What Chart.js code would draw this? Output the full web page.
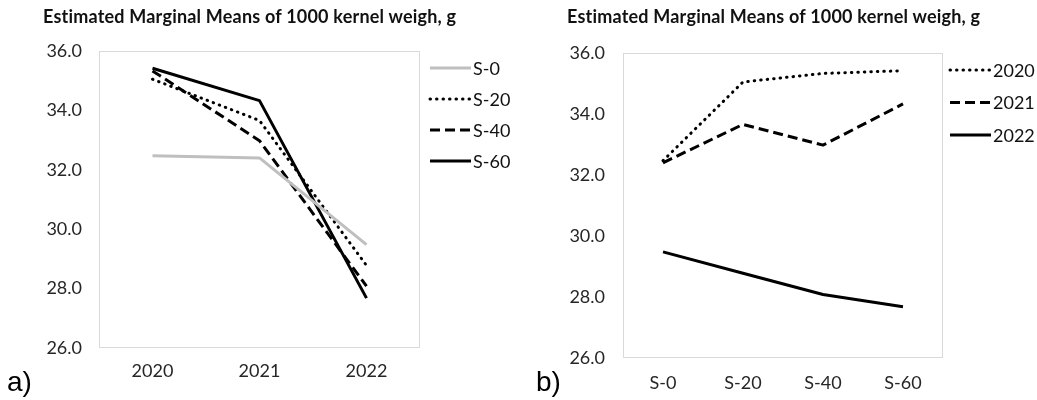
<!DOCTYPE html>
<html>
<head>
<meta charset="utf-8">
<script src="https://cdn.jsdelivr.net/npm/chart.js@4.4.1/dist/chart.umd.min.js"></script>
<style>
  body { margin: 0; background: #fff; width: 1037px; height: 400px; overflow: hidden; position: relative; }
  .panel { position: absolute; top: 0; height: 400px; }
  .title { position: absolute; top: 5px; font: bold 18px Lato, sans-serif; letter-spacing: 0.2px; color: #111; white-space: nowrap; }
  .tag { position: absolute; top: 366px; font: 28px "Liberation Sans", Arial, sans-serif; color: #000; }
</style>
</head>
<body>
<div class="panel" style="left:0;width:520px"><canvas id="chartA" width="520" height="400"></canvas></div>
<div class="panel" style="left:520px;width:517px"><canvas id="chartB" width="517" height="400"></canvas></div>
<div class="title" style="left:43px">Estimated Marginal Means of 1000 kernel weigh, g</div>
<div class="title" style="left:567px">Estimated Marginal Means of 1000 kernel weigh, g</div>
<div class="tag" style="left:7px">a)</div>
<div class="tag" style="left:536px">b)</div>

<script>
// values
const years = ['2020', '2021', '2022'];
const doses = ['S-0', 'S-20', 'S-40', 'S-60'];
const s0 = [32.47, 32.40, 29.48];
const s20 = [35.05, 33.66, 28.78];
const s40 = [35.33, 32.98, 28.08];
const s60 = [35.42, 34.33, 27.68];
const yMin = 26, yMax = 36, yStep = 2;

const tickFont = { family: 'Lato', size: 18 };
const tickColor = '#262626';

// line styles, index matches doses / years
const doseStyles = [
  { color: '#bfbfbf', dash: [], cap: 'butt' },
  { color: '#000', dash: [0.5, 6], cap: 'round' },
  { color: '#000', dash: [10, 5], cap: 'butt' },
  { color: '#000', dash: [], cap: 'butt' }
];
const yearStyles = [doseStyles[1], doseStyles[2], doseStyles[3]];

// light grey box round the plot area
const frame = {
  id: 'frame',
  beforeDatasetsDraw(chart) {
    const { ctx, chartArea: a } = chart;
    ctx.save();
    ctx.strokeStyle = '#d9d9d9';
    ctx.lineWidth = 1;
    ctx.strokeRect(a.left + 0.5, a.top + 0.5, a.width - 1, a.height - 1);
    ctx.restore();
  }
};

// legend drawn next to the plot, line then label
const sideLegend = {
  id: 'sideLegend',
  afterDraw(chart, args, opts) {
    const ctx = chart.ctx;
    chart.data.datasets.forEach((ds, i) => {
      const y = opts.top + i * opts.step;
      ctx.save();
      ctx.strokeStyle = ds.borderColor;
      ctx.lineWidth = ds.borderWidth;
      ctx.lineCap = ds.borderCapStyle;
      ctx.setLineDash(ds.borderDash);
      ctx.beginPath();
      ctx.moveTo(opts.x, y);
      ctx.lineTo(opts.x + 41, y);
      ctx.stroke();
      ctx.restore();
      ctx.save();
      ctx.fillStyle = '#111';
      ctx.font = '18px Lato';
      ctx.textBaseline = 'middle';
      ctx.fillText(ds.label, opts.x + 43, y + 1);
      ctx.restore();
    });
  }
};

function lineSet(label, data, st) {
  return {
    label: label,
    data: data,
    borderColor: st.color,
    borderWidth: 3,
    borderDash: st.dash,
    borderCapStyle: st.cap,
    borderJoinStyle: 'round',
    pointRadius: 0,
    tension: 0,
    fill: false
  };
}

function makeOptions(box, legend) {
  return {
    responsive: false,
    animation: false,
    devicePixelRatio: 1,
    events: [],
    layout: { padding: { left: 0, top: box.top, right: box.right, bottom: 0 } },
    plugins: {
      legend: { display: false },
      tooltip: { enabled: false },
      sideLegend: legend
    },
    scales: {
      x: {
        offset: true,
        grid: { display: false, drawTicks: false },
        border: { display: false },
        ticks: { padding: box.xPad, color: tickColor, font: tickFont },
        afterFit(s) { s.height = box.xHeight; }
      },
      y: {
        min: yMin,
        max: yMax,
        grid: { display: false, drawTicks: false },
        border: { display: false },
        ticks: {
          stepSize: yStep,
          padding: box.yPad,
          color: tickColor,
          font: tickFont,
          callback: v => v.toFixed(1)
        },
        afterFit(s) { s.width = box.yWidth; }
      }
    }
  };
}

const seriesA = [s0, s20, s40, s60];

// a) years on the axis, one line per dose
new Chart(document.getElementById('chartA'), {
  type: 'line',
  data: {
    labels: years,
    datasets: doses.map((d, i) => lineSet(d, seriesA[i], doseStyles[i]))
  },
  options: makeOptions(
    { top: 51, right: 100, xHeight: 52, xPad: 12, yWidth: 99, yPad: 17 },
    { x: 430, top: 68, step: 31 }
  ),
  plugins: [frame, sideLegend]
});

// b) same means, doses on the axis, one line per year
new Chart(document.getElementById('chartB'), {
  type: 'line',
  data: {
    labels: doses,
    datasets: years.map((yr, j) => lineSet(yr, seriesA.map(s => s[j]), yearStyles[j]))
  },
  options: makeOptions(
    { top: 53, right: 94, xHeight: 42, xPad: 14, yWidth: 103, yPad: 18 },
    { x: 430, top: 70, step: 32.5 }
  ),
  plugins: [frame, sideLegend]
});
</script>
</body>
</html>
